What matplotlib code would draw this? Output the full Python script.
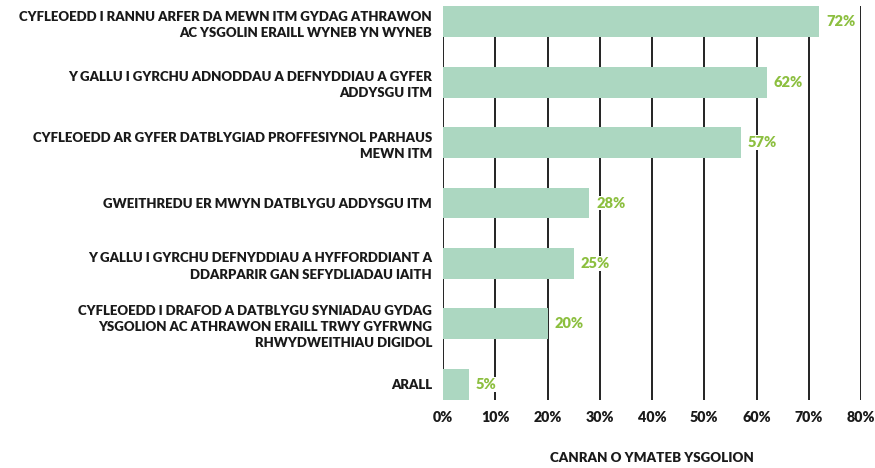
import matplotlib.pyplot as plt

categorias = [
    "CYFLEOEDD I RANNU ARFER DA MEWN ITM GYDAG ATHRAWON\nAC YSGOLIN ERAILL WYNEB YN WYNEB",
    "Y GALLU I GYRCHU ADNODDAU A DEFNYDDIAU A GYFER\nADDYSGU ITM",
    "CYFLEOEDD AR GYFER DATBLYGIAD PROFFESIYNOL PARHAUS\nMEWN ITM",
    "GWEITHREDU ER MWYN DATBLYGU ADDYSGU ITM",
    "Y GALLU I GYRCHU DEFNYDDIAU A HYFFORDDIANT A\nDDARPARIR GAN SEFYDLIADAU IAITH",
    "CYFLEOEDD I DRAFOD A DATBLYGU SYNIADAU GYDAG\nYSGOLION AC ATHRAWON ERAILL TRWY GYFRWNG\nRHWYDWEITHIAU DIGIDOL",
    "ARALL",
]
valores = [72, 62, 57, 28, 25, 20, 5]
ticks_x = [0, 10, 20, 30, 40, 50, 60, 70, 80]

plt.rcParams['font.family'] = ['Lato', 'DejaVu Sans']
peso = 'heavy'

fig = plt.figure(figsize=(8.75, 4.68), dpi=100)
ax = fig.add_axes([443 / 875, 1 - 400 / 468, (861 - 443) / 875, 394 / 468])

pos = list(range(len(valores)))
ax.barh(pos, valores, height=0.51, color='#acd7c1', zorder=3)

for p, v in zip(pos, valores):
    ax.text(v + 1.3, p, f"{v}%", va='center', ha='left', color='#8cbf3f',
            fontsize=10.5, fontweight=peso, zorder=4,
            bbox=dict(facecolor='white', edgecolor='none', pad=0.5))

ax.set_xlim(0, 80)
ax.set_ylim(6.26, -0.26)
ax.set_xticks(ticks_x)
ax.set_xticklabels([f"{t}%" for t in ticks_x], fontsize=10.3, fontweight=peso, color='#1a1a1a')
ax.set_yticks(pos)
ax.set_yticklabels(categorias, fontsize=9.5, fontweight=peso, color='#1a1a1a',
                   linespacing=1.42, ha='right')
ax.tick_params(axis='y', length=0, pad=8)
ax.tick_params(axis='x', length=0, pad=8)

ax.grid(axis='x', color='#222222', linewidth=1.4, zorder=0)
ax.grid(axis='y', visible=False)
for s in ax.spines.values():
    s.set_visible(False)

ax.set_xlabel("CANRAN O YMATEB YSGOLION", fontsize=9.6, fontweight=peso,
              color='#1a1a1a', labelpad=20)

fig.savefig('out.png', dpi=100)
